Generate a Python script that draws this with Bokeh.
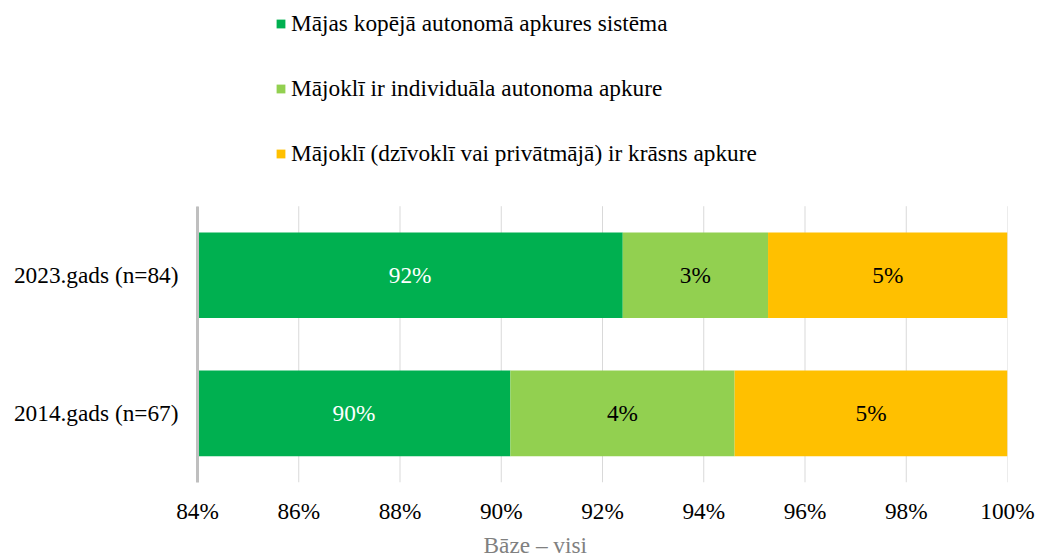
from bokeh.plotting import figure
from bokeh.models import (Range1d, Legend, LegendItem, FixedTicker,
                          CustomJSTickFormatter, Title)
from bokeh.core.properties import value
from bokeh.embed import file_html
from bokeh.resources import INLINE

categories = ["2014.gads (n=67)", "2023.gads (n=84)"]
series_names = [
    "Mājas kopējā autonomā apkures sistēma",
    "Mājoklī ir individuāla autonoma apkure",
    "Mājoklī (dzīvoklī vai privātmājā) ir krāsns apkure",
]
kopeja = [90.18, 92.40]
individuala = [4.43, 2.87]
krasns = [5.39, 4.73]
x_ticks = [84, 86, 88, 90, 92, 94, 96, 98, 100]
colors = ["#00B050", "#92D050", "#FFC000"]
label_colors = ["white", "black", "black"]
axis_title = "Bāze – visi"

FONT = "Liberation Serif"
FS = "23.3px"
X_START, X_END = 84, 100
N = len(categories)
y_pos = [i + 0.5 for i in range(N)]          # category slots 0..N
Y_END = N * 485 / 278                          # room above the bars for the legend

p = figure(width=1038, height=560, x_range=Range1d(X_START, X_END),
           y_range=Range1d(0, Y_END), output_backend="svg",
           toolbar_location=None, title_location=None,
           min_border_left=197, min_border_right=31,
           min_border_top=0, min_border_bottom=75)
p.outline_line_color = None
p.xgrid.grid_line_color = None
p.ygrid.grid_line_color = None

# vertical grid lines, only over the bar area
p.segment(x0=x_ticks, y0=[0] * len(x_ticks), x1=x_ticks, y1=[N] * len(x_ticks),
          line_color="#d9d9d9", line_width=1)

series = [kopeja, individuala, krasns]
lefts = [0.0] * N
renderers = []
for i, vals in enumerate(series):
    rights = [l + v for l, v in zip(lefts, vals)]
    r = p.hbar(y=y_pos, left=lefts, right=rights, height=0.62,
               fill_color=colors[i], line_color=None)
    renderers.append(r)
    xs = [(max(l, X_START) + rr) / 2 for l, rr in zip(lefts, rights)]
    p.text(x=xs, y=y_pos, text=[f"{round(v)}%" for v in vals],
           text_color=label_colors[i], text_font=value(FONT),
           text_font_size=FS, text_align="center", text_baseline="middle")
    lefts = rights

# x axis
p.xaxis.ticker = FixedTicker(ticks=x_ticks)
p.xaxis.formatter = CustomJSTickFormatter(code="return tick.toFixed(0) + '%';")
p.xaxis.axis_line_color = None
p.xaxis.major_tick_line_color = None
p.xaxis.minor_tick_line_color = None
p.xaxis.major_tick_out = 0
p.xaxis.minor_tick_out = 0
p.xaxis.major_label_text_font = FONT
p.xaxis.major_label_text_font_size = FS
p.xaxis.major_label_text_color = "black"
p.xaxis.major_label_standoff = 15

# y axis with category names
p.yaxis.ticker = FixedTicker(ticks=y_pos)
p.yaxis.formatter = CustomJSTickFormatter(args=dict(labels=categories),
                                          code="return labels[Math.floor(tick)];")
p.yaxis.bounds = (0, N)
p.yaxis.axis_line_color = "#bfbfbf"
p.yaxis.axis_line_width = 3
p.yaxis.major_tick_line_color = None
p.yaxis.minor_tick_line_color = None
p.yaxis.major_tick_out = 0
p.yaxis.minor_tick_out = 0
p.yaxis.major_label_text_font = FONT
p.yaxis.major_label_text_font_size = FS
p.yaxis.major_label_text_color = "black"
p.yaxis.major_label_standoff = 19

# base note below the x axis, shifted left like in the reference
p.add_layout(Title(text=axis_title, align="left", offset=286, standoff=6,
                   text_font=FONT, text_font_size=FS, text_font_style="normal",
                   text_color="#808080"), "below")

legend = Legend(
    items=[LegendItem(label=n, renderers=[r]) for n, r in zip(series_names, renderers)],
    location=(78, 315), orientation="vertical", spacing=38, padding=0, margin=0,
    border_line_color=None, background_fill_alpha=0,
    label_text_font=FONT, label_text_font_size=FS, label_text_color="black",
    glyph_width=11, glyph_height=11, label_height=26, label_standoff=5,
)
p.add_layout(legend, "center")

open("out.html", "w").write(file_html(p, INLINE))
